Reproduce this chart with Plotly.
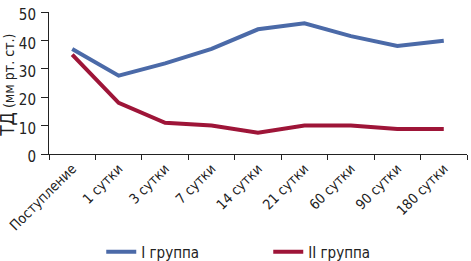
import plotly.graph_objects as go

categories = ["Поступление", "1 сутки", "3 сутки", "7 сутки", "14 сутки",
              "21 сутки", "60 сутки", "90 сутки", "180 сутки"]
group1 = [37, 27.6, 31.9, 37, 43.9, 46, 41.5, 38, 39.9]
group2 = [35, 18, 11, 10, 7.5, 10, 10, 8.8, 8.8]
y_ticks = [0, 10, 20, 30, 40, 50]
y_title = "<span style='font-size:19px'>ТД</span> (мм рт. ст.)"

FONT = "Liberation Sans Narrow, DejaVu Sans Condensed, Liberation Sans, sans-serif"

fig = go.Figure()
fig.add_trace(go.Scatter(x=categories, y=group1, mode="lines", name="I группа",
                         line=dict(color="#4b6aa8", width=4)))
fig.add_trace(go.Scatter(x=categories, y=group2, mode="lines", name="II группа",
                         line=dict(color="#9e1538", width=4)))

fig.add_annotation(text=y_title, textangle=-90, xref="paper", yref="paper",
                   x=0, y=0.48, xshift=-42, xanchor="center", yanchor="middle",
                   showarrow=False, font=dict(size=14, color="#222"))

fig.update_layout(
    width=471, height=261,
    margin=dict(l=49, r=4, t=12, b=107, autoexpand=False),
    paper_bgcolor="white", plot_bgcolor="white",
    font=dict(family=FONT, color="#222", size=13),
    showlegend=True,
    legend=dict(orientation="h", yref="paper",
                x=0.125, xanchor="left", y=-0.69, yanchor="middle",
                font=dict(size=15), itemwidth=30, entrywidth=122,
                tracegroupgap=0, itemclick=False),
    xaxis=dict(type="category", range=[-0.5, 8.5], tickson="boundaries",
               ticks="outside", ticklen=5, tickcolor="#222", showline=True,
               linecolor="#222", linewidth=1, showgrid=False, tickangle=-45,
               tickfont=dict(size=14), automargin=False),
    yaxis=dict(range=[0, 50], tickvals=y_ticks, ticks="outside", ticklen=7,
               tickcolor="#222", showline=True, linecolor="#222", linewidth=1,
               showgrid=False, zeroline=False, tickfont=dict(size=15),
               ticklabelshift=3, ticklabelstandoff=2,
               automargin=False),
)
fig.write_html("out.html", config={"displayModeBar": False},
               post_script="document.body.style.margin='0';document.body.style.overflow='hidden';")
